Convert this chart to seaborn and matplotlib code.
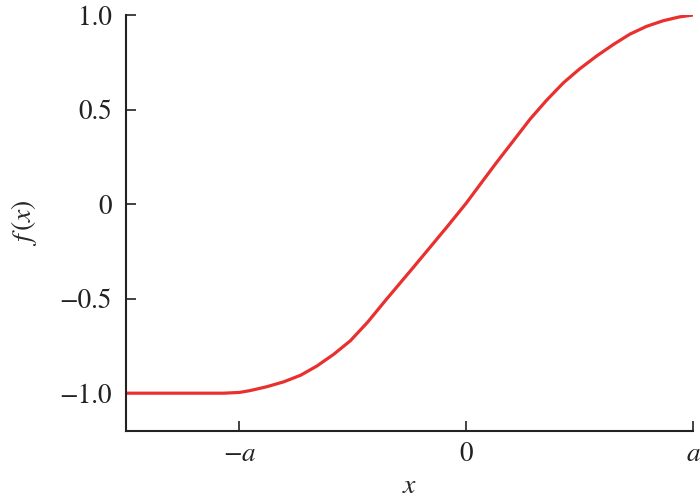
import numpy as np
import pandas as pd
import matplotlib
matplotlib.use("Agg")
import matplotlib.pyplot as plt
import seaborn as sns

# curve (x in units of a)
x_vals = [-1.5, -1.2, -1.07, -1.0, -0.952, -0.88, -0.805, -0.73, -0.658, -0.585,
          -0.511, -0.435, -0.357, -0.232, -0.085, 0.0, 0.062, 0.135, 0.208, 0.282,
          0.355, 0.429, 0.50, 0.576, 0.65, 0.722, 0.795, 0.869, 0.94, 1.0]
f_vals = [-1.0, -1.0, -1.0, -0.996, -0.986, -0.966, -0.94, -0.905, -0.856, -0.795,
          -0.723, -0.625, -0.511, -0.333, -0.121, 0.005, 0.105, 0.222, 0.335, 0.45,
          0.55, 0.642, 0.715, 0.784, 0.845, 0.899, 0.94, 0.970, 0.99, 1.0]

x_ticks = [-1, 0, 1]
x_ticklabels = [r"$-a$", "0", r"$a$"]
y_ticks = [-1.0, -0.5, 0.0, 0.5, 1.0]
y_ticklabels = ["\u22121.0", "\u22120.5", "0", "0.5", "1.0"]

df = pd.DataFrame({"x": x_vals, "f": f_vals})

sns.set_style("ticks")
plt.rcParams["font.family"] = ["STIXGeneral", "DejaVu Serif"]
plt.rcParams["mathtext.fontset"] = "stix"

fig = plt.figure(figsize=(7, 5.01), dpi=100)
ax = fig.add_axes([0.18, 0.1397, 0.81, 0.8303])

sns.lineplot(data=df, x="x", y="f", color="#e8302e", linewidth=2.3, ax=ax)

ax.set_xlim(-1.5, 1.0)
ax.set_ylim(-1.2, 1.0)
ax.set_xticks(x_ticks, labels=x_ticklabels)
ax.set_yticks(y_ticks, labels=y_ticklabels)
ax.tick_params(direction="in", length=7, width=1.2, labelsize=19.5, colors="#222222")
ax.tick_params(axis="y", pad=10)
ax.tick_params(axis="x", pad=8)

for s in ["top", "right"]:
    ax.spines[s].set_visible(False)
for s in ["left", "bottom"]:
    ax.spines[s].set_linewidth(1.5)
    ax.spines[s].set_color("#222222")

ax.set_xlabel(r"$x$", fontsize=20, labelpad=5)
ax.set_ylabel(r"$f\,(x)$", fontsize=20, labelpad=15)

fig.savefig("out.png", dpi=100)
